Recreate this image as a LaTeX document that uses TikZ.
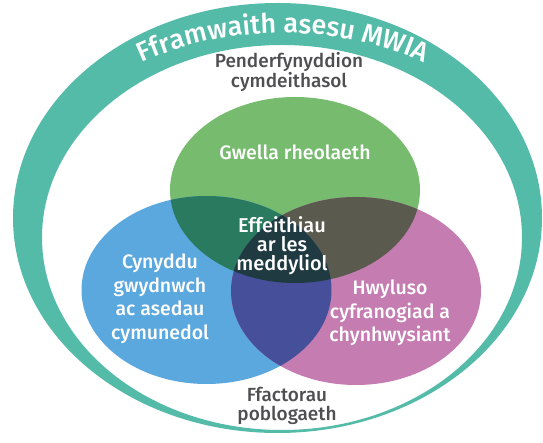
\documentclass[tikz,border=0pt]{standalone}
\usepackage{fontspec}
\setmainfont{Fira Sans}
\newfontfamily\medfont{Fira Sans Medium}
\usetikzlibrary{decorations.text}
\definecolor{tealband}{HTML}{55BBA9}
\definecolor{cgreen}{HTML}{77BB6F}
\definecolor{cblue}{HTML}{5BA8DE}
\definecolor{cpink}{HTML}{C47CB1}
\definecolor{cgb}{HTML}{2A7A5F}
\definecolor{cgp}{HTML}{5B5A4E}
\definecolor{cbp}{HTML}{46509A}
\definecolor{cgbp}{HTML}{1F3B41}
\definecolor{darktext}{HTML}{4F4F52}
\tikzset{
  intext/.style={text=white, align=center, font=\medfont\fontsize{19.5}{23.5}\selectfont, inner sep=0pt},
  centertext/.style={text=white, align=center, font=\medfont\fontsize{20}{19}\selectfont, inner sep=0pt},
  outtext/.style={text=darktext, align=center, font=\medfont\fontsize{19}{18.5}\selectfont, inner sep=0pt}
}
\begin{document}
\begin{tikzpicture}[x=1pt,y=1pt]
\useasboundingbox (0,0) rectangle (543,442);
% outer band
\fill[tealband, even odd rule] (277.5,224) ellipse [x radius=264.5, y radius=215]
  (282,204.5) ellipse [x radius=240, y radius=192.5];
% circles
\fill[cgreen] (295,252) ellipse [x radius=125, y radius=93];
\fill[cblue] (206.5,152) ellipse [x radius=125, y radius=94];
\fill[cpink] (356,151) ellipse [x radius=125, y radius=94];
\begin{scope}
  \clip (295,252) ellipse [x radius=125, y radius=93];
  \fill[cgb] (206.5,152) ellipse [x radius=125, y radius=94];
\end{scope}
\begin{scope}
  \clip (295,252) ellipse [x radius=125, y radius=93];
  \fill[cgp] (356,151) ellipse [x radius=125, y radius=94];
\end{scope}
\begin{scope}
  \clip (206.5,152) ellipse [x radius=125, y radius=94];
  \fill[cbp] (356,151) ellipse [x radius=125, y radius=94];
\end{scope}
\begin{scope}
  \clip (295,252) ellipse [x radius=125, y radius=93];
  \clip (206.5,152) ellipse [x radius=125, y radius=94];
  \fill[cgbp] (356,151) ellipse [x radius=125, y radius=94];
\end{scope}
% title along arc
\path[decorate, decoration={text along path, text align=center,
  text={|\medfont\fontsize{27}{27}\selectfont\color{white}|Fframwaith asesu MWIA}}]
  (283+260*cos 165, 223+186*sin 165) arc[start angle=165, end angle=15, x radius=260, y radius=186];
% labels
\node[outtext] (social) at (289,370) {Penderfynyddion\\cymdeithasol};
\node[intext] (gwella) at (295,290) {Gwella rheolaeth};
\node[centertext] (effeithiau) at (282,196) {Effeithiau\\ar les\\meddyliol};
\node[intext] (cynyddu) at (160,143) {Cynyddu\\gwydnwch\\ac asedau\\cymunedol};
\node[intext] (hwyluso) at (390,129) {Hwyluso\\cyfranogiad a\\chynhwysiant};
\node[outtext] (ffactorau) at (287,36) {Ffactorau\\poblogaeth};
\end{tikzpicture}
\end{document}
